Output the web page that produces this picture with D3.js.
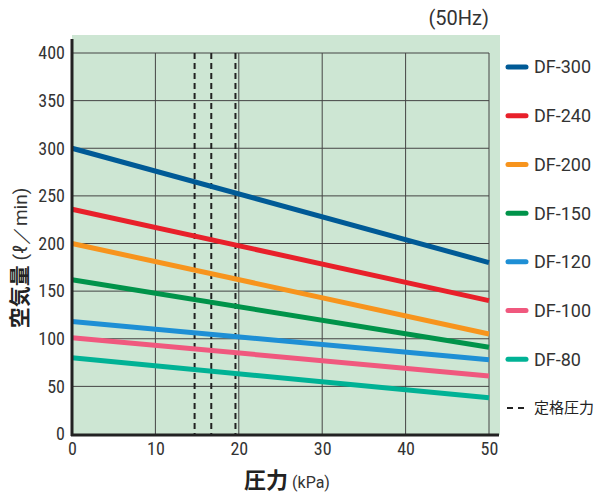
<!DOCTYPE html>
<html>
<head>
<meta charset="utf-8">
<script src="https://cdn.jsdelivr.net/npm/d3@7"></script>
<style>
  body { margin: 0; background: #fff; }
  svg { display: block; }
  .tick text { font-family: "Liberation Sans Narrow", "Roboto Condensed", "Liberation Sans", sans-serif; font-size: 18px; fill: #333; }
  .lbl { font-family: "Noto Sans CJK JP", "Noto Sans", sans-serif; fill: #222; }
  .lat { font-family: Roboto, sans-serif; fill: #333; }
</style>
</head>
<body>
<svg width="596" height="493"></svg>
<script>
const pressure = [0, 50];
const models = ["DF-300", "DF-240", "DF-200", "DF-150", "DF-120", "DF-100", "DF-80"];
const flowAt0 = [300, 236, 200, 162, 118, 101, 80];
const flowAt50 = [180, 140, 105, 91, 78, 61, 38];
const colors = ["#005a96", "#e8202a", "#f7941d", "#00934a", "#1e8fd5", "#f0587e", "#00b295"];
const ratedPressure = [14.7, 16.7, 19.6];
const xTicks = [0, 10, 20, 30, 40, 50];
const yTicks = [0, 50, 100, 150, 200, 250, 300, 350, 400];

const svg = d3.select("svg");
const x = d3.scaleLinear().domain([0, 50]).range([72, 489]);
const y = d3.scaleLinear().domain([0, 400]).range([434, 53]);

// green plot background
svg.append("rect")
  .attr("x", 72).attr("y", 35)
  .attr("width", 428).attr("height", 400)
  .attr("fill", "#cde6d3");

// grid
svg.append("g").selectAll("line")
  .data(xTicks.slice(1))
  .join("line")
  .attr("x1", d => x(d)).attr("x2", d => x(d))
  .attr("y1", y(400)).attr("y2", y(0))
  .attr("stroke", "#444").attr("stroke-width", 1);

svg.append("g").selectAll("line")
  .data(yTicks.slice(1))
  .join("line")
  .attr("x1", x(0)).attr("x2", x(50))
  .attr("y1", d => y(d)).attr("y2", d => y(d))
  .attr("stroke", "#444").attr("stroke-width", 1);

// rated pressure dashed lines
svg.append("g").selectAll("line")
  .data(ratedPressure)
  .join("line")
  .attr("x1", d => x(d)).attr("x2", d => x(d))
  .attr("y1", y(400)).attr("y2", y(0))
  .attr("stroke", "#222").attr("stroke-width", 2)
  .attr("stroke-dasharray", "6,4");

// series lines
const series = models.map((m, i) => ({
  name: m,
  color: colors[i],
  values: [[pressure[0], flowAt0[i]], [pressure[1], flowAt50[i]]]
}));

const line = d3.line().x(d => x(d[0])).y(d => y(d[1]));

svg.append("g").selectAll("path")
  .data(series)
  .join("path")
  .attr("d", d => line(d.values))
  .attr("fill", "none")
  .attr("stroke", d => d.color)
  .attr("stroke-width", 5);

// axes
const xAxis = svg.append("g")
  .attr("transform", `translate(0,${y(0)})`)
  .call(d3.axisBottom(x).tickValues(xTicks).tickSize(0).tickPadding(8));
xAxis.select(".domain").remove();

const yAxis = svg.append("g")
  .attr("transform", `translate(${x(0)},0)`)
  .call(d3.axisLeft(y).tickValues(yTicks).tickSize(0).tickPadding(7));
yAxis.select(".domain").remove();

svg.append("line")
  .attr("x1", x(0)).attr("x2", x(0))
  .attr("y1", 39).attr("y2", 436)
  .attr("stroke", "#222").attr("stroke-width", 3);
svg.append("line")
  .attr("x1", 71).attr("x2", 499)
  .attr("y1", 435).attr("y2", 435)
  .attr("stroke", "#222").attr("stroke-width", 3);

// (50Hz)
svg.append("text")
  .attr("class", "lat")
  .attr("x", 489).attr("y", 25)
  .attr("text-anchor", "end")
  .style("font-size", "20px")
  .text("(50Hz)");

// legend
const legendY = d3.scalePoint().domain(d3.range(8)).range([67, 408]);
const legend = svg.append("g").selectAll("g")
  .data(series)
  .join("g")
  .attr("transform", (d, i) => `translate(506,${legendY(i)})`);
legend.append("line")
  .attr("x1", 2).attr("x2", 20)
  .attr("stroke", d => d.color)
  .attr("stroke-width", 5)
  .attr("stroke-linecap", "round");
legend.append("text")
  .attr("class", "lat")
  .attr("x", 28).attr("dy", "0.36em")
  .style("font-size", "18px")
  .text(d => d.name);

const rated = svg.append("g").attr("transform", `translate(506,${legendY(7)})`);
rated.append("line")
  .attr("x1", 1).attr("x2", 20)
  .attr("stroke", "#222").attr("stroke-width", 2)
  .attr("stroke-dasharray", "6,5");
rated.append("text")
  .attr("class", "lbl")
  .attr("x", 28).attr("dy", "0.36em")
  .style("font-size", "15px")
  .attr("fill", "#333")
  .text("定格圧力");

// axis titles
const xt = svg.append("text")
  .attr("class", "lbl")
  .attr("x", 287).attr("y", 488)
  .attr("text-anchor", "middle");
xt.append("tspan").style("font-size", "22px").style("font-weight", "bold").text("圧力");
xt.append("tspan").attr("class", "lat").style("font-size", "16px").text(" (kPa)");

const yt = svg.append("text")
  .attr("class", "lbl")
  .attr("transform", "translate(27,258) rotate(-90)")
  .attr("text-anchor", "middle");
yt.append("tspan").style("font-size", "21px").style("font-weight", "bold").text("空気量");
yt.append("tspan").attr("class", "lat").style("font-size", "19px").text(" (ℓ／min)");
</script>
</body>
</html>
